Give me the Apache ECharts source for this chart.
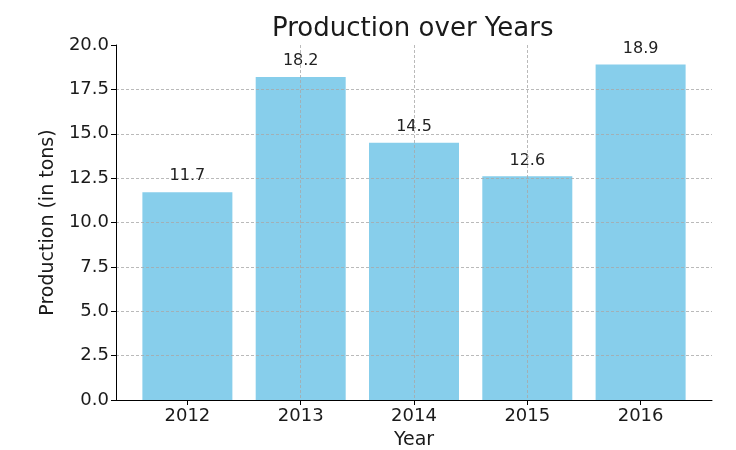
<!DOCTYPE html>
<html><head><meta charset="utf-8">
<script src="https://cdn.jsdelivr.net/npm/echarts@6/dist/echarts.min.js"></script>
<style>html,body{margin:0;padding:0;background:#fff}#c{width:736px;height:450px}</style>
</head><body><div id="c"></div>
<script>
const years = ['2012', '2013', '2014', '2015', '2016'];
const production = [11.7, 18.2, 14.5, 12.6, 18.9];
const yTicks = [0, 2.5, 5, 7.5, 10, 12.5, 15, 17.5, 20];

const font = 'DejaVu Sans';
const txt = '#1a1a1a';
const chart = echarts.init(document.getElementById('c'), null, {renderer: 'canvas'});
chart.setOption({
  animation: false,
  backgroundColor: '#fff',
  title: {
    text: 'Production over Years', left: 267, top: 11,
    textStyle: {fontFamily: font, fontSize: 26, fontWeight: 'normal', color: txt}
  },
  grid: {left: 116, right: 24, top: 45, bottom: 50, containLabel: false, outerBoundsMode: 'none'},
  xAxis: {
    type: 'value', min: -0.63, max: 4.63, z: 10,
    name: 'Year', nameLocation: 'middle', nameGap: 31,
    nameTextStyle: {fontFamily: font, fontSize: 19, color: txt},
    axisLine: {show: true, onZero: false, lineStyle: {color: '#000', width: 1}},
    axisTick: {show: true, length: 5, lineStyle: {color: '#000'}, customValues: [0, 1, 2, 3, 4]},
    axisLabel: {
      fontFamily: font, fontSize: 18, color: txt, margin: 7,
      customValues: [0, 1, 2, 3, 4],
      formatter: v => (Number.isInteger(v) && years[v]) ? years[v] : ''
    },
    splitLine: {show: true, showMinLine: false, showMaxLine: false,
      lineStyle: {color: '#a8a8a8', type: [3, 2], width: 0.8}}
  },
  yAxis: {
    type: 'value', min: 0, max: 20, interval: 2.5, z: 10,
    name: 'Production (in tons)', nameLocation: 'middle', nameGap: 58, nameRotate: 90,
    nameTextStyle: {fontFamily: font, fontSize: 19, color: txt},
    axisLine: {show: true, onZero: false, lineStyle: {color: '#000', width: 1}},
    axisTick: {show: true, length: 5, lineStyle: {color: '#000'}},
    axisLabel: {fontFamily: font, fontSize: 18, color: txt, margin: 7,
      formatter: v => v.toFixed(1)},
    splitLine: {show: true, showMinLine: false, showMaxLine: false,
      lineStyle: {color: '#a8a8a8', type: [3, 2], width: 0.8}}
  },
  series: [{
    type: 'bar', barWidth: 90,
    data: production.map((v, i) => [i, v]),
    itemStyle: {color: '#87CEEB'},
    label: {show: true, position: 'top', distance: 8, fontFamily: font, fontSize: 16, color: '#222',
      formatter: p => p.value[1].toFixed(1)}
  }]
});
</script></body></html>
